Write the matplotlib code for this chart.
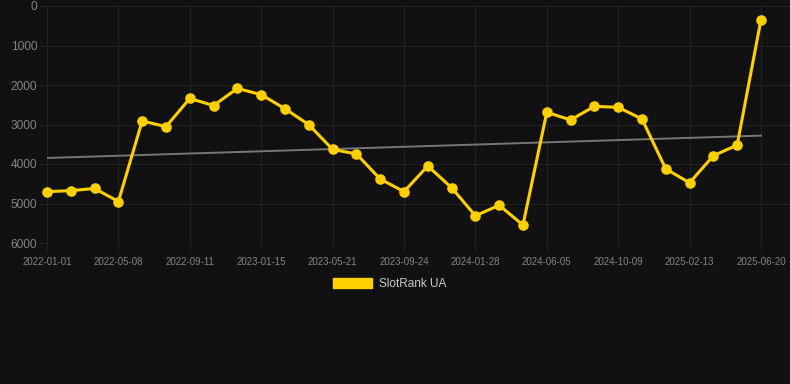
import matplotlib.pyplot as plt
import numpy as np

dates = [
    "2022-01-01", "2022-02-12", "2022-03-26", "2022-05-08", "2022-06-19",
    "2022-07-31", "2022-09-11", "2022-10-23", "2022-12-04", "2023-01-15",
    "2023-02-26", "2023-04-09", "2023-05-21", "2023-07-02", "2023-08-13",
    "2023-09-24", "2023-11-05", "2023-12-17", "2024-01-28", "2024-03-10",
    "2024-04-22", "2024-06-05", "2024-07-17", "2024-08-28", "2024-10-09",
    "2024-11-20", "2025-01-01", "2025-02-13", "2025-03-27", "2025-05-08",
    "2025-06-20",
]
ranks = [
    4700, 4675, 4620, 4950, 2910, 3055, 2340, 2520, 2085, 2245,
    2600, 3005, 3630, 3745, 4380, 4700, 4050, 4600, 5310, 5045,
    5545, 2690, 2885, 2540, 2565, 2860, 4125, 4475, 3790, 3520,
    345,
]
series_name = "SlotRank UA"
yticks = [0, 1000, 2000, 3000, 4000, 5000, 6000]

plt.rcParams["font.family"] = ["Liberation Sans", "DejaVu Sans"]

bg = "#111111"
fig = plt.figure(figsize=(7.9, 3.84), dpi=100, facecolor=bg)
ax = fig.add_axes([47 / 790, 1 - 243 / 384, 743 / 790, 237 / 384])
ax.set_facecolor(bg)

x = np.arange(len(dates))

# trend line (least squares)
k, b = np.polyfit(x, ranks, 1)
ax.plot(x, k * x + b, color="#777777", linewidth=1.4, zorder=2)

ax.plot(x, ranks, color="#ffd000", linewidth=2.2, marker="o",
        markersize=6.6, zorder=3, label=series_name, clip_on=False)

ax.set_xlim(0, len(dates) - 1 + 1.22)
ax.set_ylim(6000, 0)
ax.set_yticks(yticks)
ax.set_yticklabels([str(t) for t in yticks])

tick_idx = list(range(0, len(dates), 3))
ax.set_xticks(tick_idx)
ax.set_xticklabels([dates[i] for i in tick_idx])

ax.grid(True, color="#222222", linewidth=0.8)
for s in ax.spines.values():
    s.set_visible(False)
ax.tick_params(axis="y", colors="#222222", length=6, width=0.8,
               labelcolor="#858585", labelsize=8.6, pad=1)
ax.tick_params(axis="x", colors="#222222", length=6, width=0.8,
               labelcolor="#858585", labelsize=7, pad=4)

# legend below the plot
leg = fig.legend(handles=[plt.Rectangle((0, 0), 1, 1, color="#ffd000")],
                 labels=[series_name], loc="center",
                 bbox_to_anchor=(0.5 - 5 / 790, 1 - 284 / 384), frameon=False,
                 handlelength=3.3, handleheight=0.9, fontsize=8.5,
                 labelcolor="#cccccc", handletextpad=0.6)

fig.savefig("out.png", dpi=100, facecolor=bg)
